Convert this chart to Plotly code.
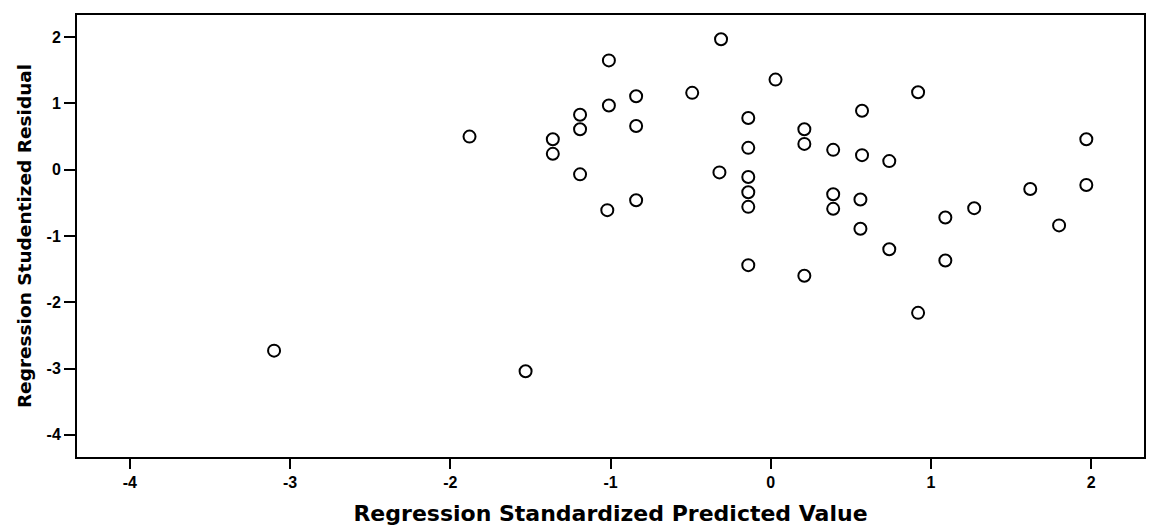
import plotly.graph_objects as go

# Regression Standardized Predicted Value (x) and Regression Studentized Residual (y)
pred = [-3.10, -1.88, -1.53, -1.36, -1.36, -1.19, -1.19, -1.19, -1.01, -1.01,
        -1.02, -0.84, -0.84, -0.84, -0.49, -0.31, -0.32, -0.14, -0.14, -0.14,
        -0.14, -0.14, -0.14, 0.03, 0.92, 0.57, 0.21, 0.21, 0.39, 0.57,
        0.74, 1.97, 1.97, 1.62, 0.39, 0.39, 0.56, 1.27, 1.09, 1.80,
        0.56, 0.74, 1.09, 0.21, 0.92]
resid = [-2.73, 0.50, -3.04, 0.46, 0.24, 0.83, 0.61, -0.07, 1.65, 0.97,
         -0.61, 1.11, 0.66, -0.46, 1.16, 1.97, -0.04, 0.78, 0.33, -0.11,
         -0.34, -0.56, -1.44, 1.36, 1.17, 0.89, 0.61, 0.39, 0.30, 0.22,
         0.13, 0.46, -0.23, -0.29, -0.37, -0.59, -0.45, -0.58, -0.72, -0.84,
         -0.89, -1.20, -1.37, -1.60, -2.16]

x_ticks = [-4, -3, -2, -1, 0, 1, 2]
y_ticks = [-4, -3, -2, -1, 0, 1, 2]

fig = go.Figure()
fig.add_trace(go.Scatter(
    x=pred, y=resid, mode="markers",
    marker=dict(symbol="circle-open", size=12, color="black",
                line=dict(width=2, color="black")),
    showlegend=False,
))

tick_family = "Liberation Sans, Arial, sans-serif"
title_family = "DejaVu Sans, Liberation Sans, sans-serif"
fig.update_layout(
    width=1151, height=528,
    margin=dict(l=77, r=7, t=15, b=71, autoexpand=False),
    paper_bgcolor="white", plot_bgcolor="white",
    font=dict(family=tick_family, color="black"),
)
fig.update_xaxes(
    range=[-4.33, 2.33], tickvals=x_ticks, ticktext=[str(v) for v in x_ticks],
    showgrid=False, zeroline=False,
    showline=True, linecolor="black", linewidth=2, mirror=True,
    ticks="outside", ticklen=10, tickwidth=2, tickcolor="black",
    tickfont=dict(size=16, weight="bold", family=tick_family),
    title=dict(text="Regression Standardized Predicted Value",
               font=dict(size=22, weight="bold", family=title_family), standoff=15),
)
fig.update_yaxes(
    range=[-4.335, 2.335], tickvals=y_ticks, ticktext=[str(v) for v in y_ticks],
    showgrid=False, zeroline=False,
    showline=True, linecolor="black", linewidth=2, mirror=True,
    ticks="outside", ticklen=11, tickwidth=2, tickcolor="black",
    tickfont=dict(size=16, weight="bold", family=tick_family),
    title=dict(text="Regression Studentized Residual",
               font=dict(size=18.5, weight="bold", family=title_family), standoff=10),
)

fig.write_html("out.html",
               config={"displayModeBar": False},
               post_script="document.body.style.margin='0';document.body.style.overflow='hidden';")
